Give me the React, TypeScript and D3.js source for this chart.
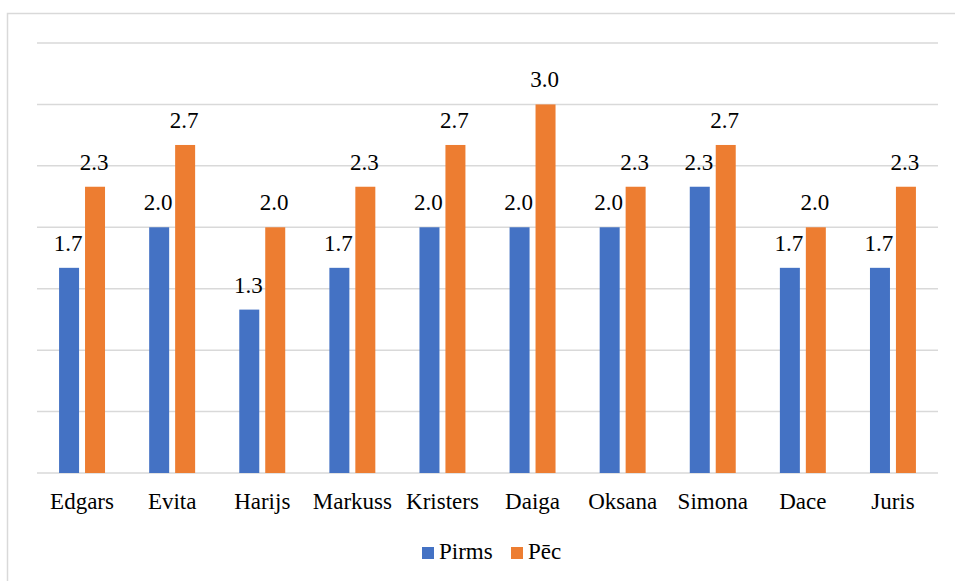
import React, { useEffect, useRef } from "react";
import * as d3 from "d3";

const names = ["Edgars", "Evita", "Harijs", "Markuss", "Kristers", "Daiga", "Oksana", "Simona", "Dace", "Juris"];
const pirms = [1.67, 2.0, 1.33, 1.67, 2.0, 2.0, 2.0, 2.33, 1.67, 1.67];
const pec = [2.33, 2.67, 2.0, 2.33, 2.67, 3.0, 2.33, 2.67, 2.0, 2.33];
const seriesNames = ["Pirms", "Pēc"];
const gridTicks = [0, 0.5, 1, 1.5, 2, 2.5, 3, 3.5];

const colors = ["#4472C4", "#ED7D31"];
const font = "Liberation Serif, Tinos, Times New Roman, DejaVu Serif, serif";

export default function App() {
	const svgRef = useRef<SVGSVGElement>(null);

	useEffect(() => {
		if (!svgRef.current) return;
		const svg = d3.select(svgRef.current);
		svg.selectAll("*").remove();

		const left = 37;
		const right = 938;
		const top = 43;
		const bottom = 473;

		// chart frame
		svg
			.append("rect")
			.attr("x", 7.5)
			.attr("y", 13.5)
			.attr("width", 960)
			.attr("height", 600)
			.attr("fill", "#fff")
			.attr("stroke", "#d9d9d9")
			.attr("stroke-width", 1.5);

		const x = d3.scaleBand().domain(names).range([left, right]).padding(0);
		const x1 = d3
			.scaleBand()
			.domain(seriesNames)
			.range([0, x.bandwidth()])
			.paddingInner(0.23)
			.paddingOuter(0.85);
		const y = d3.scaleLinear().domain([0, 3.5]).range([bottom, top]);

		svg
			.append("g")
			.selectAll("line")
			.data(gridTicks)
			.enter()
			.append("line")
			.attr("x1", left)
			.attr("x2", right)
			.attr("y1", (d) => y(d))
			.attr("y2", (d) => y(d))
			.attr("stroke", "#d9d9d9")
			.attr("stroke-width", 1.5);

		const rows = names.map((n, i) => ({ name: n, values: [pirms[i], pec[i]] }));

		const groups = svg
			.append("g")
			.selectAll("g")
			.data(rows)
			.enter()
			.append("g")
			.attr("transform", (d) => `translate(${x(d.name)},0)`);

		groups
			.selectAll("rect")
			.data((d) => d.values.map((v, j) => ({ key: seriesNames[j], v, j })))
			.enter()
			.append("rect")
			.attr("x", (d) => x1(d.key) ?? 0)
			.attr("width", x1.bandwidth())
			.attr("y", (d) => y(d.v))
			.attr("height", (d) => bottom - y(d.v))
			.attr("fill", (d) => colors[d.j]);

		groups
			.selectAll("text")
			.data((d) => d.values.map((v, j) => ({ key: seriesNames[j], v, j })))
			.enter()
			.append("text")
			.attr("x", (d) => (x1(d.key) ?? 0) + x1.bandwidth() / 2 - 1)
			.attr("y", (d) => y(d.v) - 17)
			.attr("text-anchor", "middle")
			.style("font-family", font)
			.style("font-size", "23px")
			.attr("fill", "#000")
			.text((d) => d3.format(".1f")(d.v));

		// category labels
		svg
			.append("g")
			.selectAll("text")
			.data(names)
			.enter()
			.append("text")
			.attr("x", (d) => (x(d) ?? 0) + x.bandwidth() / 2)
			.attr("y", bottom + 36)
			.attr("text-anchor", "middle")
			.style("font-family", font)
			.style("font-size", "23px")
			.attr("fill", "#000")
			.text((d) => d);

		// legend
		const legendX = [422, 511];
		const legend = svg
			.append("g")
			.selectAll("g")
			.data(seriesNames)
			.enter()
			.append("g")
			.attr("transform", (_d, i) => `translate(${legendX[i]},547)`);
		legend
			.append("rect")
			.attr("width", 12)
			.attr("height", 12)
			.attr("fill", (_d, i) => colors[i]);
		legend
			.append("text")
			.attr("x", 17)
			.attr("y", 12)
			.style("font-family", font)
			.style("font-size", "23px")
			.attr("fill", "#000")
			.text((d) => d);
	}, []);

	return (
		<div style={{ position: "absolute", left: 0, top: 0 }}>
			<svg ref={svgRef} width={955} height={581} style={{ display: "block" }} />
		</div>
	);
}
